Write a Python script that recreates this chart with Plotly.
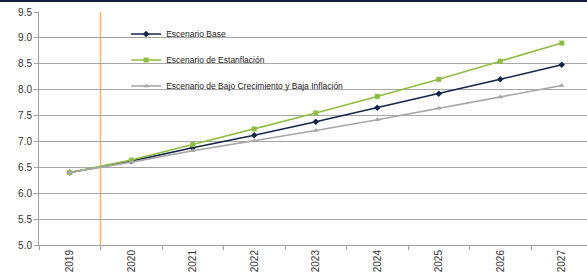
import plotly.graph_objects as go

years = ["2019", "2020", "2021", "2022", "2023", "2024", "2025", "2026", "2027"]
base = [6.40, 6.62, 6.88, 7.12, 7.38, 7.65, 7.92, 8.20, 8.48]
estanflacion = [6.40, 6.64, 6.94, 7.24, 7.55, 7.87, 8.20, 8.55, 8.90]
bajo = [6.40, 6.60, 6.82, 7.01, 7.21, 7.42, 7.64, 7.86, 8.08]
y_ticks = [5.0, 5.5, 6.0, 6.5, 7.0, 7.5, 8.0, 8.5, 9.0, 9.5]

series = [
    ("Escenario Base", base, "#13264a", "diamond", 5),
    ("Escenario de Estanflación", estanflacion, "#8cbf3f", "square", 5),
    ("Escenario de Bajo Crecimiento y Baja Inflación", bajo, "#a6a6a6", "triangle-up", 5),
]

FONT = "Liberation Sans Narrow, Arial Narrow, Liberation Sans, Arial, sans-serif"

fig = go.Figure()
for i, (name, vals, col, sym, sz) in enumerate(series):
    fig.add_trace(go.Scatter(
        x=years, y=vals, name=name, mode="lines+markers",
        line=dict(color=col, width=1.6),
        marker=dict(symbol=sym, size=sz, color=col),
        legendgroup=f"g{i}",
    ))

fig.update_layout(
    width=587, height=278,
    margin=dict(l=39, r=0, t=12, b=33),
    paper_bgcolor="white", plot_bgcolor="white",
    font=dict(family=FONT, size=10, color="#333333"),
    showlegend=True,
    legend=dict(
        x=0.159, y=0.968, xanchor="left", yanchor="top",
        bgcolor="rgba(0,0,0,0)", font=dict(family=FONT, size=8.5, color="#222222"),
        tracegroupgap=7, itemwidth=30,
    ),
    xaxis=dict(
        type="category", categoryorder="array", categoryarray=years,
        range=[-0.5, 8.41], tickson="boundaries", ticks="outside", ticklen=4,
        tickcolor="#a0a0a0", showline=True, linecolor="#a0a0a0", linewidth=1,
        showgrid=False, tickangle=-90, tickfont=dict(family=FONT, size=10, color="#333333"),
        zeroline=False,
    ),
    yaxis=dict(
        range=[5.0, 9.5], tickvals=y_ticks, ticktext=[f"{v:.1f}" for v in y_ticks],
        showgrid=True, gridcolor="#a6a6a6", gridwidth=1,
        showline=True, linecolor="#a0a0a0", linewidth=1,
        ticks="outside", ticklen=4, tickcolor="#a0a0a0",
        tickfont=dict(family=FONT, size=10, color="#333333"), zeroline=False,
    ),
    shapes=[
        dict(type="rect", xref="paper", yref="paper", x0=-0.08, x1=1.0, y0=1.0429, y1=1.0515,
             fillcolor="#0f1f3d", line=dict(width=0), layer="above"),
        dict(type="line", xref="x", yref="paper", x0=0.5, x1=0.5, y0=0, y1=1,
             line=dict(color="#f5b36a", width=1.5), layer="below"),
    ],
)

fig.write_html("out.html", config={"displayModeBar": False},
               post_script="document.body.style.margin='0px';")
